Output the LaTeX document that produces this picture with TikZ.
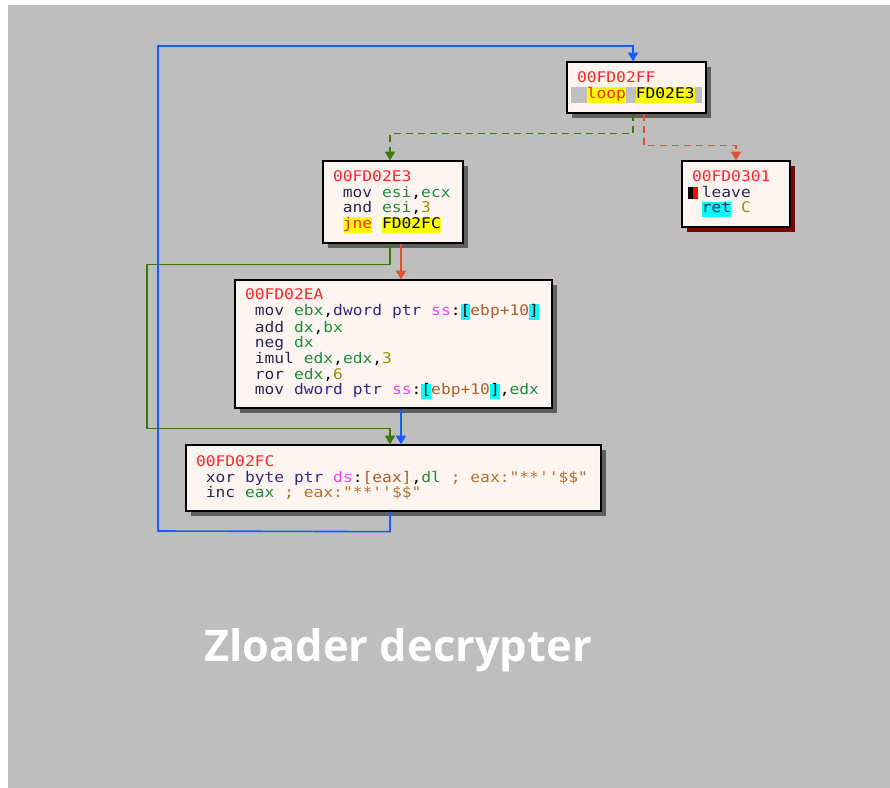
\documentclass[tikz,border=0pt]{standalone}
\usepackage{fontspec}
\setmonofont{DejaVu Sans Mono}[FakeStretch=1.11]
\newfontfamily\titlefont{Open Sans}
\usetikzlibrary{arrows.meta,calc,shadows}

\definecolor{graphbg}{RGB}{190,190,190}
\definecolor{bandgray}{RGB}{192,192,192}
\definecolor{boxfill}{RGB}{255,245,240}
\definecolor{shadowgray}{RGB}{95,95,95}
\definecolor{shadowred}{RGB}{128,0,0}
\definecolor{addrred}{RGB}{255,40,40}
\definecolor{mnemnavy}{RGB}{40,40,80}
\definecolor{reggreen}{RGB}{30,140,60}
\definecolor{immolive}{RGB}{160,140,0}
\definecolor{ptrblue}{RGB}{50,40,130}
\definecolor{segmag}{RGB}{255,60,255}
\definecolor{membrown}{RGB}{170,95,40}
\definecolor{cmtbrown}{RGB}{180,110,50}
\definecolor{hlyellow}{RGB}{255,255,0}
\definecolor{hlcyan}{RGB}{0,255,255}
\definecolor{jmpblue}{RGB}{30,90,255}
\definecolor{jmpgreen}{RGB}{60,120,10}
\definecolor{jmpred}{RGB}{230,80,50}

\newcommand{\hlbox}[2]{{\setlength{\fboxsep}{0pt}\colorbox{#1}{\strut#2}}}
\newcommand{\addr}[1]{\textcolor{addrred}{#1}}
\newcommand{\mnem}[1]{\textcolor{mnemnavy}{#1}}
\newcommand{\reg}[1]{\textcolor{reggreen}{#1}}
\newcommand{\imm}[1]{\textcolor{immolive}{#1}}
\newcommand{\ptrk}[1]{\textcolor{ptrblue}{#1}}
\newcommand{\segr}[1]{\textcolor{segmag}{#1}}
\newcommand{\memo}[1]{\textcolor{membrown}{#1}}
\newcommand{\cmnt}[1]{\textcolor{cmtbrown}{#1}}
% one monospace cell of blank
\newcommand{\sx}{\hphantom{x}}

\tikzset{
  codebox/.style={draw=black, line width=1pt, fill=boxfill, align=left,
    inner xsep=7.5pt, inner ysep=0pt, font=\ttfamily\fontsize{11}{11.7}\selectfont,
    drop shadow={shadow xshift=3.75pt, shadow yshift=-3.75pt, fill=shadowgray, opacity=1}},
  retbox/.style={codebox,
    drop shadow={shadow xshift=3.75pt, shadow yshift=-3.75pt, fill=shadowred, opacity=1}},
  edge/.style={line width=1.2pt, -{Triangle[width=7.5pt,length=6.5pt]}},
  jmpyes/.style={edge, jmpgreen, dash pattern=on 5.25pt off 3.75pt},
  jmpno/.style={edge, jmpred, dash pattern=on 5.25pt off 3.75pt},
  title/.style={font=\titlefont\bfseries\fontsize{32.6}{40}\selectfont, text=white}
}

\begin{document}
\begin{tikzpicture}[x=0.75pt,y=-0.75pt]
  \useasboundingbox (0,0) rectangle (890,788);
  \fill[white] (0,0) rectangle (890,788);
  \fill[graphbg] (8,5) rectangle (890,788);

  %the basic blocks
  \node[codebox, text width=89.25pt, minimum height=38.25pt] (nA) at (636.5,87.5)
    {\addr{00FD02FF}\\
     \hspace*{-4.5pt}\rlap{\setlength{\fboxsep}{0pt}\colorbox{bandgray}{\makebox[98.25pt][l]{\hspace*{4.5pt}\sx\hlbox{hlyellow}{\addr{loop}}\sx\hlbox{hlyellow}{FD02E3}}}}\strut};
  \node[codebox, text width=90pt, minimum height=61.5pt] (nB) at (393,202)
    {\addr{00FD02E3}\\
     \sx\mnem{mov}\sx\reg{esi},\reg{ecx}\\
     \sx\mnem{and}\sx\reg{esi},\imm{3}\\
     \sx\hlbox{hlyellow}{\addr{jne}}\sx\hlbox{hlyellow}{FD02FC}};
  \node[retbox, text width=66pt, minimum height=49.5pt] (nC) at (736,194)
    {\addr{00FD0301}\\
     \hspace*{-3pt}\rlap{\rule[-1.5pt]{3.75pt}{9pt}\textcolor{red}{\rule[-1.5pt]{3.75pt}{9pt}}}\hspace*{3pt}\sx\mnem{leave}\\
     \sx\hlbox{hlcyan}{\mnem{ret}}\sx\imm{C}};
  \node[codebox, text width=222.75pt, minimum height=96pt] (nD) at (393.5,344)
    {\addr{00FD02EA}\\
     \sx\mnem{mov}\sx\reg{ebx},\ptrk{dword\sx ptr}\sx\segr{ss}:\hlbox{hlcyan}{[}\memo{ebp+10}\hlbox{hlcyan}{]}\\
     \sx\mnem{add}\sx\reg{dx},\reg{bx}\\
     \sx\mnem{neg}\sx\reg{dx}\\
     \sx\mnem{imul}\sx\reg{edx},\reg{edx},\imm{3}\\
     \sx\mnem{ror}\sx\reg{edx},\imm{6}\\
     \sx\mnem{mov}\sx\ptrk{dword\sx ptr}\sx\segr{ss}:\hlbox{hlcyan}{[}\memo{ebp+10}\hlbox{hlcyan}{]},\reg{edx}};
  \node[codebox, text width=296.25pt, minimum height=49.5pt] (nE) at (393.5,478)
    {\addr{00FD02FC}\\
     \sx\mnem{xor}\sx\ptrk{byte\sx ptr}\sx\segr{ds}:\memo{[eax]},\reg{dl}\sx\cmnt{;\sx eax:"**''\$\$"}\\
     \sx\mnem{inc}\sx\reg{eax}\sx\cmnt{;\sx eax:"**''\$\$"}};

  %the jumps
  \draw[jmpyes] ($(nA.south)+(-3.5,0)$) -- ++(0,20) -| ($(nB.north)+(-3,0)$);
  \draw[jmpno] ($(nA.south)+(7.5,0)$) -- ++(0,32) -| (nC.north);
  \draw[edge, jmpred] ($(nB.south)+(8,0)$) -- ($(nD.north)+(7.5,0)$);
  \draw[edge, jmpgreen] ($(nB.south)+(-3,0)$) -- ++(0,21) -- ++(-243,0) |- ($(nE.north)+(-3.5,-16)$) -- ($(nE.north)+(-3.5,0)$);
  \draw[edge, jmpblue] ($(nD.south)+(7.5,0)$) -- ($(nE.north)+(7.5,0)$);
  \draw[edge, jmpblue] ($(nE.south)+(-3.5,0)$) -- ++(0,20) -- (158,531) -- (158,46) -| ($(nA.north)+(-3.5,0)$);

  \node[title, anchor=base] (ttl) at (398,661) {Zloader decrypter};
\end{tikzpicture}
\end{document}
